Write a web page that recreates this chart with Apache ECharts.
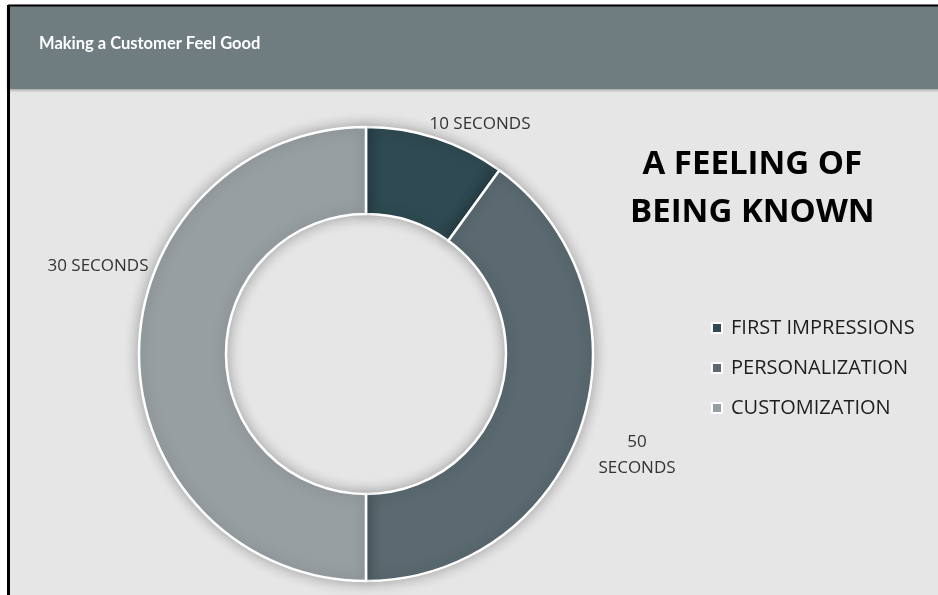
<!DOCTYPE html>
<html>
<head>
<meta charset="utf-8">
<script src="https://cdn.jsdelivr.net/npm/echarts@6/dist/echarts.min.js"></script>
<style>
html,body{margin:0;padding:0;background:#ffffff;}
#chart{width:938px;height:595px;}
</style>
</head>
<body>
<div id="chart"></div>
<script>
var categories = ['FIRST IMPRESSIONS', 'PERSONALIZATION', 'CUSTOMIZATION'];
var values = [10, 40, 50];
var labelTexts = ['10 SECONDS', '50\nSECONDS', '30 SECONDS'];
var colors = ['#2f4a52', '#5a6a70', '#979fa2'];
var titleText = 'Making a Customer Feel Good';
var subtitleText = 'A FEELING OF\nBEING KNOWN';

var chart = echarts.init(document.getElementById('chart'), null, {renderer: 'canvas'});
var labelPos = [
  {x: 480, y: 124},
  {x: 637, y: 455},
  {x: 98, y: 266}
];
var option = {
  backgroundColor: '#ffffff',
  animation: false,
  graphic: [
    {type: 'rect', shape: {x: 8, y: 5, width: 940, height: 600}, style: {fill: '#e6e6e6'}, z: -10},
    {type: 'rect', shape: {x: 8, y: 5, width: 940, height: 84}, style: {fill: '#6f7d81', shadowBlur: 3, shadowColor: 'rgba(0,0,0,0.35)', shadowOffsetY: 1}, z: -9},
    {type: 'line', shape: {x1: 8, y1: 5.5, x2: 938, y2: 5.5}, style: {stroke: '#000', lineWidth: 2}, z: 10},
    {type: 'line', shape: {x1: 8.5, y1: 5, x2: 8.5, y2: 595}, style: {stroke: '#000', lineWidth: 3}, z: 10},
    {type: 'text', left: 630, top: 141, style: {text: subtitleText, font: 'bold 33px "Open Sans", sans-serif', fill: '#000', lineHeight: 48, textAlign: 'center'}, z: 5}
  ],
  title: {
    text: titleText,
    left: 34,
    top: 30,
    textStyle: {color: '#ffffff', fontSize: 16.5, fontWeight: 'bold', fontFamily: 'Lato, "Open Sans", sans-serif'}
  },
  color: colors,
  legend: {
    orient: 'vertical',
    left: 706,
    top: 313,
    icon: 'rect',
    itemWidth: 10,
    itemHeight: 10,
    itemGap: 20,
    data: categories,
    textStyle: {fontSize: 20, lineHeight: 20, color: '#1e1e1e', fontFamily: '"Open Sans", sans-serif', padding: [0, 0, 0, 4]}
  },
  series: [{
    type: 'pie',
    center: [366, 354],
    radius: [140, 227],
    startAngle: 90,
    clockwise: true,
    data: categories.map(function (c, i) { return {name: c, value: values[i]}; }),
    itemStyle: {borderColor: '#ffffff', borderWidth: 2.5, shadowBlur: 14, shadowColor: 'rgba(0,0,0,0.3)'},
    emphasis: {disabled: true},
    label: {
      show: true,
      position: 'outside',
      formatter: function (p) { return labelTexts[p.dataIndex]; },
      fontSize: 17,
      color: '#333',
      lineHeight: 26,
      align: 'center',
      overflow: 'none',
      fontFamily: '"Open Sans", sans-serif'
    },
    labelLine: {show: false},
    labelLayout: function (p) {
      var lp = labelPos[p.dataIndex];
      return {x: lp.x, y: lp.y, align: 'center', verticalAlign: 'middle', hideOverlap: false};
    }
  }]
};
chart.setOption(option);
</script>
</body>
</html>
